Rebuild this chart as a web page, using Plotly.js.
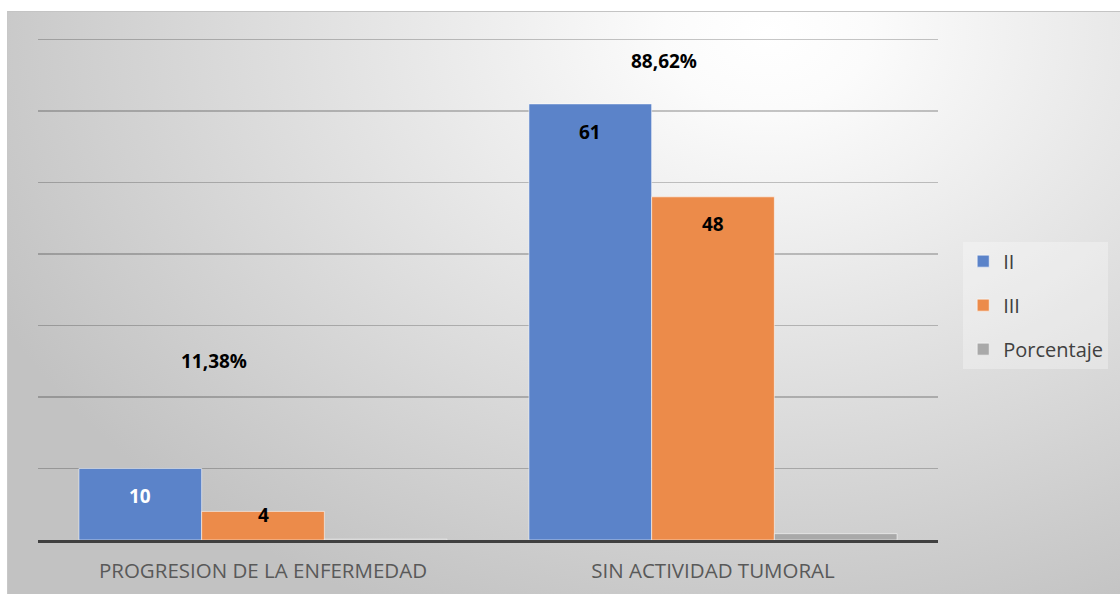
<!DOCTYPE html>
<html>
<head>
<meta charset="utf-8">
<script src="https://cdn.plot.ly/plotly-3.0.1.min.js"></script>
<style>
  html, body { margin: 0; padding: 0; width: 1120px; height: 594px; background: #ffffff; overflow: hidden; }
  #bg { position: absolute; left: 7px; top: 11px; width: 1113px; height: 583px;
        border-top: 1px solid #c4c4c4; border-left: 1px solid #c8c8c8; box-sizing: border-box;
        background: radial-gradient(ellipse 860px 640px at 760px 20px, #ffffff 0%, #fbfbfb 12%, #c2c2c2 100%); }
  #chart { position: absolute; left: 0; top: 0; width: 1120px; height: 594px; }
</style>
</head>
<body>
<div id="bg"></div>
<div id="chart"></div>
<script>
// ---- data ----
const categories = ['PROGRESION DE LA ENFERMEDAD', 'SIN ACTIVIDAD TUMORAL'];
const seriesNames = ['II', 'III', 'Porcentaje'];
const valuesII = [10, 61];
const valuesIII = [4, 48];
const valuesPct = [0.1138, 0.8862];

// ---- style ----
const colors = ['#5b83c9', '#ec8b4a', '#a9a9a9'];
const fontFam = '"Open Sans", "Noto Sans", sans-serif';
const barLabelShift = { II: [-27, -28], III: [-4, -27] };
const barLabelColor = { II: ['#ffffff', '#000000'], III: ['#000000', '#000000'] };
const pctLabelY = [25, 67];      // manually placed label heights (axis units)
const pctLabelDx = -0.11;        // offset from category centre
const barOffsets = { II: -0.273, III: 0 };

function mk(name, vals, color, grp) {
  return {
    type: 'bar', name: name, x: categories, y: vals,
    marker: { color: color, line: { color: 'rgba(255,255,255,0.55)', width: 1 } },
    legendgroup: grp, hoverinfo: 'none'
  };
}
const traces = [
  mk(seriesNames[0], valuesII, colors[0], 'g1'),
  mk(seriesNames[1], valuesIII, colors[1], 'g2'),
  mk(seriesNames[2], valuesPct, colors[2], 'g3')
];

const annotations = [];
categories.forEach((c, i) => {
  annotations.push({ x: i + barOffsets.II, y: valuesII[i], xref: 'x', yref: 'y', text: String(valuesII[i]),
    showarrow: false, yshift: barLabelShift.II[i], font: { family: fontFam, size: 19, color: barLabelColor.II[i], weight: 'bold' } });
  annotations.push({ x: i + barOffsets.III, y: valuesIII[i], xref: 'x', yref: 'y', text: String(valuesIII[i]),
    showarrow: false, yshift: barLabelShift.III[i], font: { family: fontFam, size: 19, color: barLabelColor.III[i], weight: 'bold' } });
  annotations.push({ x: i + pctLabelDx, y: pctLabelY[i], xref: 'x', yref: 'y',
    text: (valuesPct[i] * 100).toFixed(2).replace('.', ',') + '%',
    showarrow: false, font: { family: fontFam, size: 19, color: '#000000', weight: 'bold' } });
});

const layout = {
  width: 1120, height: 594,
  margin: { l: 38, r: 182, t: 36, b: 54, pad: 0 },
  paper_bgcolor: 'rgba(0,0,0,0)', plot_bgcolor: 'rgba(0,0,0,0)',
  barmode: 'group', bargap: 0.182, bargroupgap: 0,
  font: { family: fontFam, color: '#595959' },
  xaxis: {
    type: 'category', showgrid: false, showline: true, linecolor: '#404040', linewidth: 3,
    ticks: '', tickfont: { family: fontFam, size: 20.5, color: '#595959' }, ticklabelstandoff: 10,
    zeroline: false
  },
  yaxis: {
    range: [0, 70.5], dtick: 10, showgrid: true, gridcolor: 'rgba(0,0,0,0.22)', gridwidth: 1.5,
    showticklabels: false, zeroline: false, showline: false, ticks: ''
  },
  showlegend: true,
  legend: {
    x: 1.028, y: 0.592, xanchor: 'left', yanchor: 'top',
    bgcolor: 'rgba(255,255,255,0.3)', borderwidth: 0,
    font: { family: fontFam, size: 20, color: '#404040' },
    traceorder: 'grouped', tracegroupgap: 15, itemwidth: 30
  },
  annotations: annotations,
  hovermode: false
};

Plotly.newPlot('chart', traces, layout, { displayModeBar: false, staticPlot: true });
</script>
</body>
</html>
